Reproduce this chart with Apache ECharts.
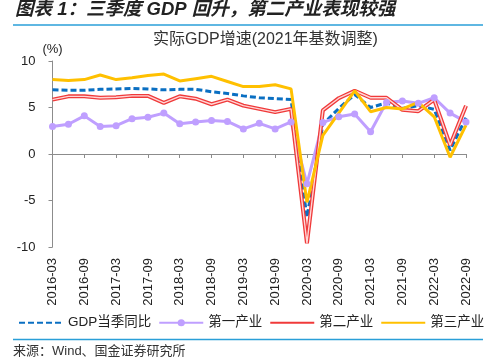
<!DOCTYPE html>
<html>
<head>
<meta charset="utf-8">
<script src="https://cdn.jsdelivr.net/npm/echarts@6/dist/echarts.min.js"></script>
<style>
html,body{margin:0;padding:0;background:#fff;}
#chart{width:500px;height:362px;}
</style>
</head>
<body>
<div id="chart"></div>
<script>
// ---- Data ----
var categories = ['2016-03','2016-06','2016-09','2016-12','2017-03','2017-06','2017-09','2017-12',
  '2018-03','2018-06','2018-09','2018-12','2019-03','2019-06','2019-09','2019-12',
  '2020-03','2020-06','2020-09','2020-12','2021-03','2021-06','2021-09','2021-12',
  '2022-03','2022-06','2022-09'];
var gdpYoY    = [6.9, 6.85, 6.85, 6.95, 7.0, 7.05, 7.0, 6.9, 6.95, 6.95, 6.7, 6.5, 6.25, 6.05, 5.95, 5.85, -6.8, 3.2, 4.9, 6.4, 5.0, 5.5, 4.9, 5.2, 4.8, 0.4, 3.9];
var primary   = [2.95, 3.2, 4.1, 2.95, 3.05, 3.8, 3.95, 4.4, 3.25, 3.45, 3.6, 3.5, 2.7, 3.3, 2.7, 3.45, -3.2, 3.4, 4.0, 4.3, 2.4, 5.55, 5.7, 5.45, 6.05, 4.4, 3.45];
var secondary = [5.85, 6.2, 6.2, 6.05, 6.1, 6.25, 6.25, 5.5, 6.2, 5.95, 5.35, 5.85, 5.2, 4.85, 4.5, 4.85, -9.6, 4.7, 6.0, 6.8, 6.05, 6.05, 4.75, 4.6, 5.85, 0.95, 5.2];
var tertiary  = [8.0, 7.9, 8.0, 8.5, 8.0, 8.2, 8.45, 8.6, 7.85, 8.1, 8.35, 7.8, 7.25, 7.25, 7.45, 7.0, -5.2, 2.0, 4.4, 6.8, 4.55, 5.0, 4.85, 5.55, 4.0, -0.35, 3.1];
var seriesNames = ['GDP当季同比', '第一产业', '第二产业', '第三产业'];
var yTicks = {min: -10, max: 10, interval: 5};
var mainTitle = '图表 1：三季度 GDP 回升，第二产业表现较强';
var subTitle = '实际GDP增速(2021年基数调整)';
var sourceText = '来源：Wind、国金证券研究所';

var FONT = '"Liberation Sans", Arial, "Noto Sans CJK SC", sans-serif';
var chart = echarts.init(document.getElementById('chart'), null, {renderer: 'canvas'});

var hideSym = {opacity: 0, color: 'rgba(0,0,0,0)', borderWidth: 0};

chart.setOption({
  animation: false,
  backgroundColor: '#fff',
  textStyle: {fontFamily: FONT},
  title: [
    {text: mainTitle, left: 15, top: 1, padding: 0,
     textStyle: {fontSize: 18.5, fontWeight: 'bold', fontStyle: 'italic', color: '#222', fontFamily: FONT}},
    {text: subTitle, left: 153, top: 32, padding: 0,
     textStyle: {fontSize: 16, fontWeight: 'normal', color: '#333', fontFamily: FONT}}
  ],
  grid: {left: 52.5, right: 34, top: 61, bottom: 115, containLabel: false, outerBoundsMode: 'none'},
  legend: {
    data: [
      {name: seriesNames[0], itemStyle: hideSym},
      {name: seriesNames[1]},
      {name: seriesNames[2], itemStyle: hideSym},
      {name: seriesNames[3], itemStyle: hideSym}
    ],
    left: 18, top: 316,
    itemWidth: 44, itemHeight: 9, itemGap: 7,
    padding: 0,
    textStyle: {fontSize: 13.5, color: '#222', fontFamily: FONT}
  },
  xAxis: {
    type: 'category',
    data: categories,
    boundaryGap: false,
    axisLine: {onZero: true, lineStyle: {color: '#8c8c8c', width: 1}},
    axisTick: {show: true, interval: 1, length: 4, inside: false, lineStyle: {color: '#8c8c8c'}},
    axisLabel: {interval: 1, rotate: 90, margin: 11, fontSize: 13, color: '#222', fontFamily: FONT},
    splitLine: {show: false}
  },
  yAxis: {
    type: 'value',
    min: yTicks.min, max: yTicks.max, interval: yTicks.interval,
    name: '(%)', nameLocation: 'end', nameGap: 5,
    nameTextStyle: {fontSize: 13, color: '#222', fontFamily: FONT},
    axisLine: {show: true, lineStyle: {color: '#8c8c8c', width: 1}},
    axisTick: {show: true, length: 4, lineStyle: {color: '#8c8c8c'}},
    axisLabel: {margin: 17, fontSize: 13, color: '#222', fontFamily: FONT},
    splitLine: {show: false}
  },
  series: [
    {name: seriesNames[0], type: 'line', data: gdpYoY, symbol: 'none',
     itemStyle: {color: '#0a6fc2'},
     lineStyle: {color: '#0a6fc2', width: 3, type: [6, 3]}},
    {name: seriesNames[1], type: 'line', data: primary, symbol: 'circle', symbolSize: 7,
     itemStyle: {color: '#bf9fff'},
     lineStyle: {color: '#bf9fff', width: 3}},
    {name: seriesNames[2], type: 'line', data: secondary, symbol: 'none',
     itemStyle: {color: '#f03a3a'},
     lineStyle: {color: '#f03a3a', width: 4}},
    {name: seriesNames[2] + '_inner', type: 'line', data: secondary, symbol: 'none',
     itemStyle: {color: '#ffd6d6'}, silent: true,
     lineStyle: {color: '#ffd6d6', width: 1.4}},
    {name: seriesNames[3], type: 'line', data: tertiary, symbol: 'none',
     itemStyle: {color: '#ffc000'},
     lineStyle: {color: '#ffc000', width: 3}}
  ],
  graphic: [
    {type: 'line', shape: {x1: 13, y1: 25, x2: 483, y2: 25}, style: {stroke: '#2a9fd8', lineWidth: 1.5}},
    {type: 'line', shape: {x1: 13, y1: 339.5, x2: 483, y2: 339.5}, style: {stroke: '#2a9fd8', lineWidth: 1.5}},
    {type: 'text', left: 13, top: 345, style: {text: sourceText, fontSize: 13, fill: '#333', fontFamily: FONT}}
  ]
});
</script>
</body>
</html>
